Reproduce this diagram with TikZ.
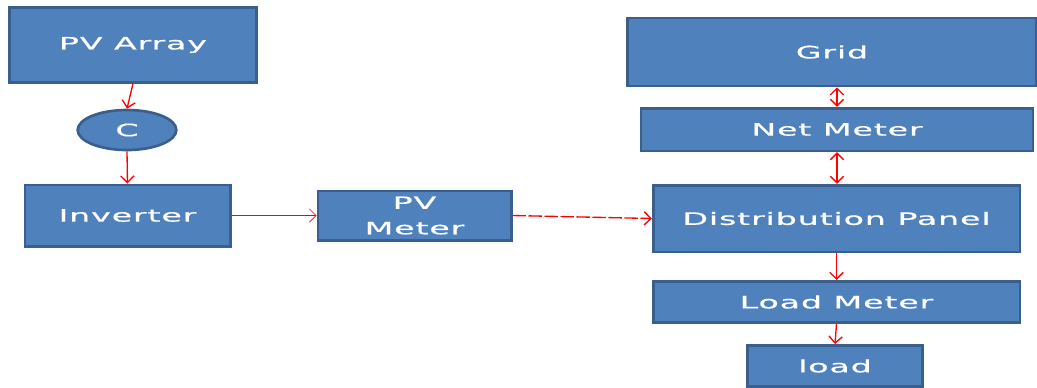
\documentclass[tikz,border=0pt]{standalone}
\usepackage{fontspec}
\usepackage{xcolor}
\usepackage{tikz}
\usetikzlibrary{shapes.geometric,arrows.meta}
\newfontfamily\boxfont{DejaVu Sans}[FakeStretch=1.95,LetterSpace=5,FakeBold=0.6]
\definecolor{boxfill}{HTML}{4F81BD}
\definecolor{boxline}{HTML}{3A5F8C}
\tikzset{
  blk/.style={draw=boxline, fill=boxfill, line width=2pt, text=white, inner sep=1pt,
    font=\boxfont\fontsize{12.8}{19}\selectfont},
  flow/.style={draw=red, line width=1pt, -{Straight Barb[length=5pt,width=10pt]}},
  flow2/.style={draw=red, line width=1pt, {Straight Barb[length=5pt,width=10pt]}-{Straight Barb[length=5pt,width=10pt]}}
}
\begin{document}
\begin{tikzpicture}[x=0.75pt,y=-0.75pt]
        \useasboundingbox (0,0) rectangle (1037,387);
        \node[blk, minimum width=185pt, minimum height=56pt] (pv) at (133,45) {PV Array};
        \node[blk, ellipse, minimum width=74pt, minimum height=30pt] (c) at (127,130) {C};
        \node[blk, minimum width=154pt, minimum height=46pt] (inv) at (127.5,215.5) {Inverter};
        \node[blk, minimum width=145pt, minimum height=37pt, align=center] (pvm) at (414.5,215.5) {PV\\Meter};

        \node[blk, minimum width=307pt, minimum height=51pt] (grid) at (832,52) {Grid};
        \node[blk, minimum width=294pt, minimum height=32pt] (net) at (837,129.5) {Net Meter};
        \node[blk, minimum width=275pt, minimum height=50pt] (dist) at (836.5,218.5) {Distribution Panel};
        \node[blk, minimum width=275pt, minimum height=31pt] (lm) at (836.5,302) {Load Meter};
        \node[blk, minimum width=131pt, minimum height=31pt] (ld) at (835,366) {load};

        \draw[flow] (pv.south) -- (c.north);
        \draw[flow] (c.south) -- (inv.north);
        \draw[flow, line width=0.5pt] (inv.east) -- (pvm.west);
        \draw[flow, dash pattern=on 10pt off 2pt] (pvm.east) -- (dist.west);

        \draw[flow2] (net.north |- grid.south) -- (net.north);
        \draw[flow2] (net.south) -- (net.south |- dist.north);
        \draw[flow] (dist.south) -- (lm.north);
        \draw[flow] (lm.south) -- (ld.north);
    \end{tikzpicture}
\end{document}
